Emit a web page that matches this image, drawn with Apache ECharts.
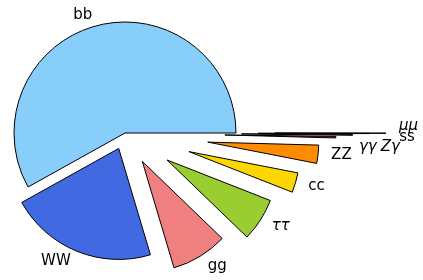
<!DOCTYPE html>
<html>
<head>
<meta charset="utf-8">
<script src="https://cdn.jsdelivr.net/npm/echarts@6/dist/echarts.min.js"></script>
<style>
	html, body { margin: 0; padding: 0; background: #fff; }
	#chart { width: 423px; height: 280px; }
</style>
</head>
<body>
<div id="chart"></div>
<script>
// Higgs decay channels, counter-clockwise from 3 o'clock
const channels = ["bb", "WW", "gg", "ττ", "cc", "ZZ", "γγ", "Zγ", "ss", "μμ"];
const fractions = [0.5809, 0.2152, 0.0818, 0.06256, 0.02884, 0.02641, 0.00227, 0.001541, 0.000246, 0.000217];
const explode = [0, 0.15, 0.3, 0.45, 0.6, 0.75, 0.9, 1.05, 1.2, 1.35];

const sliceColors = ["#87CEFA", "#4169E1", "#F08080", "#9ACD32", "#FFD700", "#FF8C00", "#B22222", "#800080", "#2F4F4F", "#000000"];
const mathLabel = [false, false, false, true, false, false, true, true, false, true];
// the tiny slices' labels were pushed apart in the original
const labelNudge = [[0, 0], [0, 0], [0, 0], [0, 0], [0, 0], [0, 0], [10, 10], [15, 12], [17, 4], [0, -7]];

const cx = 125, cy = 133, R = 111;

const total = fractions.reduce((a, b) => a + b, 0);
let acc = 0;
const mids = fractions.map((v) => {
	const m = ((acc + v / 2) / total) * 2 * Math.PI;
	acc += v;
	return m;
});

const chart = echarts.init(document.getElementById("chart"), null, { renderer: "canvas" });

const series = channels.map((name, i) => ({
	type: "pie",
	animation: false,
	silent: true,
	center: [cx + explode[i] * R * Math.cos(mids[i]), cy - explode[i] * R * Math.sin(mids[i])],
	radius: R,
	startAngle: 0,
	clockwise: false,
	avoidLabelOverlap: false,
	label: { show: false },
	labelLine: { show: false },
	data: channels.map((n, j) => ({
		name: n,
		value: fractions[j],
		itemStyle: j === i
			? { color: sliceColors[j], borderColor: "#000", borderWidth: 1 }
			: { color: "transparent", borderWidth: 0 },
	})),
}));

// labels sit at 1.1 R from each slice's own (exploded) centre
const labelText = channels.map((name, i) => {
	const d = (explode[i] + 1.1) * R;
	const c = Math.cos(mids[i]);
	return {
		type: "text",
		silent: true,
		x: cx + d * c + (c >= 0 ? 2 : -2) + labelNudge[i][0],
		y: cy - d * Math.sin(mids[i]) + labelNudge[i][1],
		style: {
			text: name,
			fill: "#000",
			font: (mathLabel[i] ? "italic " : "") + "15px 'DejaVu Sans'",
			textAlign: c >= 0 ? "left" : "right",
			textVerticalAlign: "middle",
		},
	};
});

chart.setOption({
	backgroundColor: "#fff",
	series: series,
	graphic: labelText,
});
</script>
</body>
</html>
